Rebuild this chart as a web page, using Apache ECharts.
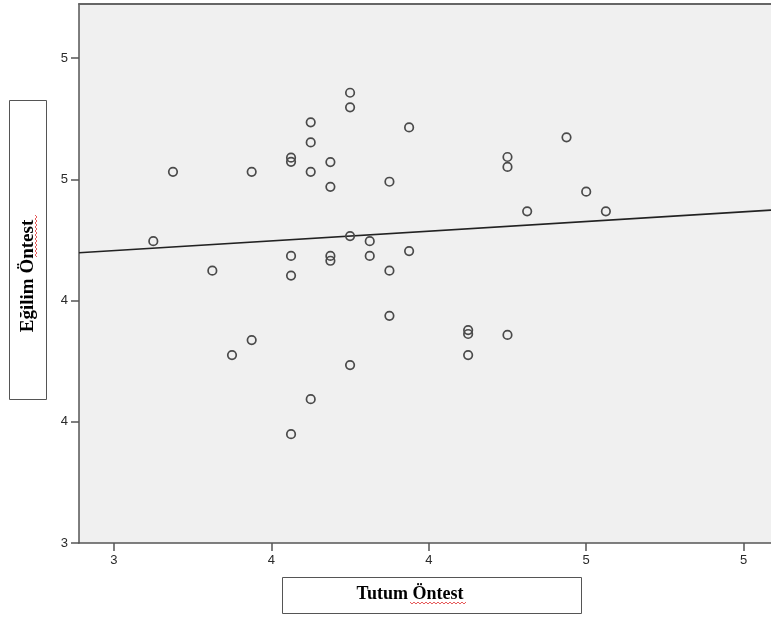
<!DOCTYPE html>
<html>
<head>
<meta charset="utf-8">
<script src="https://cdn.jsdelivr.net/npm/echarts@6/dist/echarts.min.js"></script>
<style>
html,body{margin:0;padding:0;background:#fff;}
#c{width:771px;height:619px;}
</style>
</head>
<body>
<div id="c"></div>
<script>
// Tutum Öntest (x) values
const tutumX = [3.125,3.1875,3.3125,3.375,3.4375,3.4375,3.5625,3.5625,3.5625,3.5625,
  3.5625,3.625,3.625,3.625,3.625,3.6875,3.6875,3.6875,3.6875,3.75,
  3.75,3.75,3.75,3.8125,3.8125,3.875,3.875,3.875,3.9375,3.9375,
  4.125,4.125,4.125,4.25,4.25,4.25,4.3125,4.4375,4.5,4.5625];
// Eğilim Öntest (y) values
const egilimY = [4.245,4.531,4.123,3.775,4.531,3.837,4.589,4.572,4.184,4.103,
  3.449,4.735,4.652,4.531,3.593,4.571,4.469,4.184,4.164,4.857,
  4.797,4.266,3.734,4.245,4.184,4.490,4.123,3.937,4.714,4.204,
  3.878,3.862,3.775,4.592,4.551,3.858,4.368,4.673,4.449,4.368];
// fit line
const fitIntercept = 3.966;
const fitSlope = 0.080;
// axis ticks and labels
const xTicks = [3, 3.5, 4, 4.5, 5];
const xTickLabels = ['3','4','4','5','5'];
const yTicks = [3, 3.5, 4, 4.5, 5];
const yTickLabels = ['3','4','4','5','5'];
const xRange = [2.889, 5.087];
const yRange = [3, 5.223];

const points = tutumX.map((x, i) => [x, egilimY[i]]);
const fitLine = xRange.map(x => [x, fitIntercept + fitSlope * x]);

function squiggle(x0, y0, len, vertical) {
  const pts = [];
  const step = 2;
  for (let i = 0; i * step <= len; i++) {
    const off = (i % 2 === 0) ? 0 : 2;
    if (vertical) pts.push([x0 + off, y0 + i * step]);
    else pts.push([x0 + i * step, y0 + off]);
  }
  return pts;
}

const chart = echarts.init(document.getElementById('c'), null, {renderer: 'canvas'});
const labelFont = {color: '#2a2a2a', fontFamily: 'Liberation Sans, Arial, sans-serif', fontSize: 13};
const axisLineStyle = {color: '#555', width: 1.5};
chart.setOption({
  animation: false,
  backgroundColor: '#fff',
  grid: {left: 79, right: 0, top: 4, bottom: 76, show: true, backgroundColor: '#f0f0f0',
    borderWidth: 0},
  xAxis: [{
    type: 'value', min: xRange[0], max: xRange[1],
    axisLine: {show: true, onZero: false, lineStyle: axisLineStyle},
    axisTick: {show: true, customValues: xTicks, length: 8, lineStyle: axisLineStyle},
    axisLabel: Object.assign({customValues: xTicks, margin: 11,
      formatter: v => xTickLabels[xTicks.indexOf(v)]}, labelFont),
    splitLine: {show: false}
  }, {
    type: 'value', position: 'top', min: xRange[0], max: xRange[1],
    axisLine: {show: true, onZero: false, lineStyle: {color: '#666', width: 2}},
    axisTick: {show: false}, axisLabel: {show: false}, splitLine: {show: false}
  }],
  yAxis: {
    type: 'value', min: yRange[0], max: yRange[1],
    axisLine: {show: true, onZero: false, lineStyle: axisLineStyle},
    axisTick: {show: true, customValues: yTicks, length: 8, lineStyle: axisLineStyle},
    axisLabel: Object.assign({customValues: yTicks, margin: 11,
      formatter: v => yTickLabels[yTicks.indexOf(v)]}, labelFont),
    splitLine: {show: false}
  },
  series: [
    {
      type: 'line', data: fitLine, symbol: 'none', silent: true,
      lineStyle: {color: '#222', width: 1.6}, z: 2
    },
    {
      type: 'scatter', data: points, symbol: 'circle', symbolSize: 8.5,
      itemStyle: {color: 'rgba(0,0,0,0)', borderColor: '#4a4a4a', borderWidth: 1.7, opacity: 1},
      z: 3
    }
  ],
  graphic: [
    {type: 'rect', shape: {x: 9.5, y: 100.5, width: 37, height: 299},
      style: {fill: '#fff', stroke: '#555', lineWidth: 1}},
    {type: 'text', x: 28, y: 276, rotation: Math.PI / 2,
      style: {text: 'Eğilim Öntest', align: 'center', verticalAlign: 'middle',
        font: 'bold 19px "Liberation Serif", "Times New Roman", serif', fill: '#000'}},
    {type: 'polyline', shape: {points: squiggle(35, 215, 42, true)},
      style: {stroke: '#e03030', lineWidth: 0.8, fill: null}},
    {type: 'rect', shape: {x: 282.5, y: 577.5, width: 299, height: 36},
      style: {fill: '#fff', stroke: '#555', lineWidth: 1}},
    {type: 'text', x: 410, y: 594, 
      style: {text: 'Tutum Öntest', align: 'center', verticalAlign: 'middle',
        font: 'bold 18px "Liberation Serif", "Times New Roman", serif', fill: '#000'}},
    {type: 'polyline', shape: {points: squiggle(410, 602, 56, false)},
      style: {stroke: '#e03030', lineWidth: 0.8, fill: null}}
  ]
});
</script>
</body>
</html>
